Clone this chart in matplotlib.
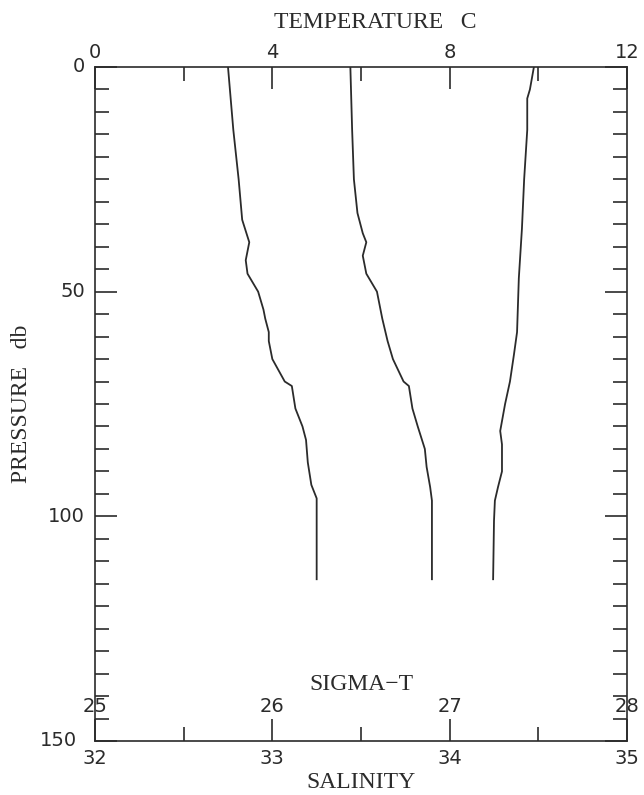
import matplotlib
matplotlib.use("Agg")
import matplotlib.pyplot as plt
import matplotlib.transforms as mtransforms
from matplotlib.ticker import FixedLocator

# ---------------- data ----------------
sal_pressure = [0, 14, 25, 34, 39, 43, 46, 50, 54, 56, 59, 61, 65, 70, 71, 76,
                80, 83, 88, 93, 96, 114]
salinity = [32.75, 32.78, 32.81, 32.83, 32.87, 32.85, 32.86, 32.92, 32.95, 32.96,
            32.98, 32.98, 33.00, 33.07, 33.11, 33.13, 33.17, 33.19, 33.20, 33.22,
            33.25, 33.25]

sig_pressure = [0, 14, 25, 32.5, 37, 39, 42, 46, 50, 54, 56, 61, 65, 70, 71, 76,
                80, 85, 89, 93.5, 96.5, 114]
sigma_t = [26.44, 26.45, 26.46, 26.48, 26.51, 26.53, 26.51, 26.53, 26.59, 26.61,
           26.62, 26.65, 26.68, 26.74, 26.77, 26.79, 26.82, 26.86, 26.87, 26.89,
           26.90, 26.90]

temp_pressure = [0, 5, 7, 14, 25, 36, 47, 59, 64, 70, 75, 81, 84, 90, 93.5, 96.5,
                 101, 114]
temperature = [9.90, 9.81, 9.75, 9.75, 9.68, 9.63, 9.56, 9.52, 9.45, 9.36, 9.25,
               9.14, 9.18, 9.18, 9.09, 9.02, 9.00, 8.98]

temp_ticks = [0, 4, 8, 12]
temp_minor = [2, 6, 10]
sal_ticks = [32, 33, 34, 35]
sal_minor = [32.5, 33.5, 34.5]
sigma_ticks = [25, 26, 27, 28]
pres_ticks = [0, 50, 100, 150]
pres_minor = [p for p in range(5, 150, 5) if p % 50]

# ---------------- style ----------------
INK = "#2b2b2b"
NUMFONT = dict(family="DejaVu Sans", size=14)
SERIF = ["Liberation Serif", "DejaVu Serif"]

W, H = 644, 795
fig = plt.figure(figsize=(W / 100, H / 100), dpi=100)
fig.patch.set_facecolor("white")
left, right, top, bottom = 95, 627, 67, 741
ax = fig.add_axes([left / W, 1 - bottom / H, (right - left) / W, (bottom - top) / H])
ax_t = ax.twiny()
ax_s = ax.twiny()

for a in (ax, ax_t, ax_s):
    a.set_facecolor("none")
for sp in ax.spines.values():
    sp.set_color(INK)
    sp.set_linewidth(1.2)
for sp in ax_t.spines.values():
    sp.set_visible(False)
for sp in ax_s.spines.values():
    sp.set_visible(False)

# ----- scales -----
ax.set_xlim(32, 35)
ax.set_ylim(150, 0)
ax_t.set_xlim(0, 12)
ax_s.set_xlim(25, 28)

# ----- curves -----
lkw = dict(color=INK, lw=1.3, solid_joinstyle="round")
ax.plot(salinity, sal_pressure, **lkw)
ax_s.plot(sigma_t, sig_pressure, **lkw)
ax_t.plot(temperature, temp_pressure, **lkw)

px = 72 / 100  # points per pixel

# ----- pressure axis (left + right) -----
ax.yaxis.set_major_locator(FixedLocator(pres_ticks))
ax.yaxis.set_minor_locator(FixedLocator(pres_minor))
ax.set_yticklabels([str(p) for p in pres_ticks], fontdict=NUMFONT, color=INK)
ax.tick_params(axis="y", which="both", direction="in", left=True, right=True,
               color=INK, width=1.2)
ax.tick_params(axis="y", which="major", length=22 * px, pad=10 * px)
ax.tick_params(axis="y", which="minor", length=14 * px)
for t in ax.get_yticklabels():
    t.set_va("center")
# the 150 label sits further left in the reference
lab150 = ax.yaxis.get_major_ticks()[-1].label1
lab150.set_transform(lab150.get_transform() +
                     mtransforms.ScaledTranslation(-8 / 100, 0, fig.dpi_scale_trans))

# ----- salinity axis (bottom) -----
ax.xaxis.set_major_locator(FixedLocator(sal_ticks))
ax.xaxis.set_minor_locator(FixedLocator(sal_minor))
ax.set_xticklabels([str(s) for s in sal_ticks], fontdict=NUMFONT, color=INK)
ax.tick_params(axis="x", which="both", direction="in", bottom=True, top=False,
               color=INK, width=1.2)
ax.tick_params(axis="x", which="major", length=22 * px, pad=17 * px)
ax.tick_params(axis="x", which="minor", length=14 * px)
for t in ax.get_xticklabels():
    t.set_va("center")
ax.set_xlabel("SALINITY", family=SERIF, size=17, color=INK)
ax.xaxis.set_label_coords(0.5, (bottom - 783) / (bottom - top))
ax.xaxis.label.set_va("center")
ax.set_ylabel("PRESSURE   db", family=SERIF, size=17, color=INK)
ax.yaxis.set_label_coords((22 - left) / (right - left), 0.5)
ax.yaxis.label.set_va("center")

# ----- temperature axis (top) -----
ax_t.xaxis.set_major_locator(FixedLocator(temp_ticks))
ax_t.xaxis.set_minor_locator(FixedLocator(temp_minor))
ax_t.set_xticklabels([str(t) for t in temp_ticks], fontdict=NUMFONT, color=INK)
ax_t.tick_params(axis="x", which="both", direction="in", top=True, bottom=False,
                 color=INK, width=1.2)
ax_t.tick_params(axis="x", which="major", length=22 * px, pad=14.5 * px)
ax_t.tick_params(axis="x", which="minor", length=14 * px)
for t in ax_t.get_xticklabels():
    t.set_va("center")
ax_t.set_xlabel("TEMPERATURE   C", family=SERIF, size=17, color=INK)
ax_t.xaxis.set_label_position("top")
ax_t.xaxis.set_label_coords((375 - left) / (right - left), (bottom - 22) / (bottom - top))
ax_t.xaxis.label.set_va("center")

# ----- sigma-t scale (labels inside, above salinity axis) -----
ax_s.xaxis.set_ticks_position("bottom")
ax_s.xaxis.set_label_position("bottom")
ax_s.xaxis.set_major_locator(FixedLocator(sigma_ticks))
ax_s.set_xticklabels([str(s) for s in sigma_ticks], fontdict=NUMFONT, color=INK)
ax_s.tick_params(axis="x", which="both", length=0, pad=-34 * px, top=False,
                 bottom=True)
for t in ax_s.get_xticklabels():
    t.set_va("center")
ax_s.set_xlabel("SIGMA\u2212T", family=SERIF, size=17, color=INK)
ax_s.xaxis.set_label_coords(0.5, (bottom - 685) / (bottom - top))
ax_s.xaxis.label.set_va("center")

fig.savefig("out.png", dpi=100, facecolor="white")
